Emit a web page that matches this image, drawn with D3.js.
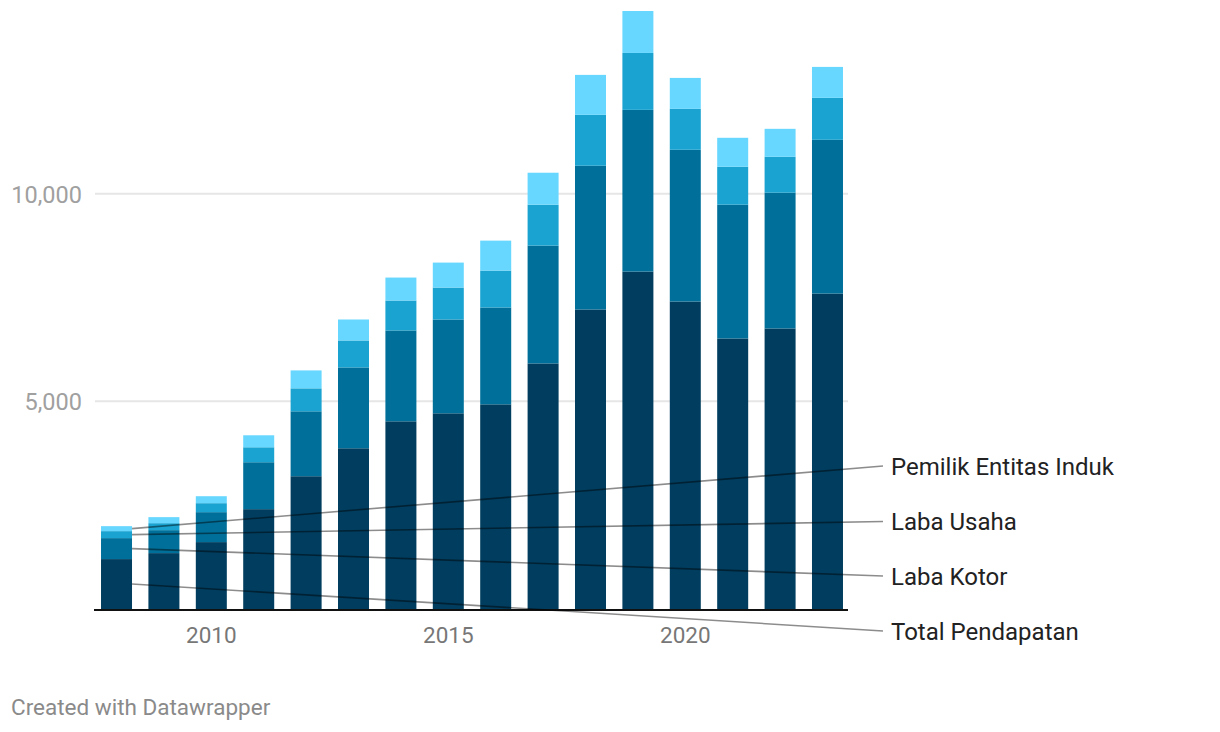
<!DOCTYPE html>
<html>
<head>
<meta charset="utf-8">
<script src="https://cdn.jsdelivr.net/npm/d3@7"></script>
<style>
  html, body { margin: 0; padding: 0; background: #fff; }
  svg { display: block; font-family: Roboto, "Noto Sans", sans-serif; }
</style>
</head>
<body>
<svg id="chart" width="1220" height="732"></svg>
<script>
// ---- data ----
const years = [2008, 2009, 2010, 2011, 2012, 2013, 2014, 2015, 2016, 2017, 2018, 2019, 2020, 2021, 2022, 2023];
const totalPendapatan = [1202, 1346, 1611, 2404, 3197, 3870, 4519, 4712, 4928, 5913, 7212, 8125, 7404, 6514, 6755, 7596];
const labaKotor = [505, 553, 721, 1130, 1563, 1947, 2188, 2259, 2332, 2837, 3461, 3894, 3654, 3222, 3269, 3702];
const labaUsaha = [168, 168, 216, 360, 553, 649, 721, 769, 889, 986, 1226, 1370, 985, 913, 865, 1010];
const pemilikEntitasInduk = [120, 145, 168, 289, 432, 505, 553, 601, 721, 769, 962, 1010, 745, 697, 673, 745];
const seriesNames = ["Total Pendapatan", "Laba Kotor", "Laba Usaha", "Pemilik Entitas Induk"];
const yTicks = [0, 5000, 10000];
const xTicks = [2010, 2015, 2020];

// ---- styles / layout ----
const colors = ["#003d5e", "#00709a", "#1aa3d0", "#68d7ff"];
const svg = d3.select("#chart");

const rows = years.map((yr, i) => ({
  year: yr,
  "Total Pendapatan": totalPendapatan[i],
  "Laba Kotor": labaKotor[i],
  "Laba Usaha": labaUsaha[i],
  "Pemilik Entitas Induk": pemilikEntitasInduk[i]
}));
const stacked = d3.stack().keys(seriesNames)(rows);

const x = d3.scaleBand().domain(years).range([94, 850]).paddingInner(0.346).paddingOuter(0.148);
const y = d3.scaleLinear().domain([0, 10000]).range([609, 193.7]);

// gridlines
svg.append("g").selectAll("line")
  .data(yTicks.filter(d => d > 0))
  .join("line")
  .attr("x1", 95).attr("x2", 848)
  .attr("y1", d => y(d)).attr("y2", d => y(d))
  .attr("stroke", "#e6e6e6").attr("stroke-width", 2);

// y labels
svg.append("g").selectAll("text")
  .data(yTicks.filter(d => d > 0))
  .join("text")
  .attr("x", 82).attr("y", d => y(d) + 8.8)
  .attr("text-anchor", "end")
  .attr("font-size", 23.5)
  .attr("fill", "#a0a0a0")
  .text(d => d3.format(",")(d));

// bars
svg.append("g").selectAll("g")
  .data(stacked)
  .join("g")
  .attr("fill", (d, i) => colors[i])
  .selectAll("rect")
  .data(d => d)
  .join("rect")
  .attr("x", d => x(d.data.year))
  .attr("width", x.bandwidth())
  .attr("y", d => y(d[1]))
  .attr("height", d => y(d[0]) - y(d[1]));

// baseline
svg.append("line")
  .attr("x1", 94).attr("x2", 848)
  .attr("y1", y(0) + 1).attr("y2", y(0) + 1)
  .attr("stroke", "#111").attr("stroke-width", 2);

// x labels
svg.append("g").selectAll("text")
  .data(xTicks)
  .join("text")
  .attr("x", d => x(d) + x.bandwidth() / 2)
  .attr("y", 643)
  .attr("text-anchor", "middle")
  .attr("font-size", 22.5)
  .attr("fill", "#777")
  .text(d => d);

// series labels with connector lines
const labelBaselines = [639.5, 584.5, 530, 474.5];
const labelX = 891;
const first = years[0];
const lab = svg.append("g");
stacked.forEach((s, i) => {
  const seg = s[0];
  const sy = (y(seg[0]) + y(seg[1])) / 2;
  lab.append("line")
    .attr("x1", x(first) + x.bandwidth()).attr("y1", sy)
    .attr("x2", 883).attr("y2", labelBaselines[i] - 8.5)
    .attr("stroke", "#000").attr("stroke-opacity", 0.45).attr("stroke-width", 1.6);
  lab.append("text")
    .attr("x", labelX).attr("y", labelBaselines[i])
    .attr("font-size", 24)
    .attr("fill", "#222")
    .text(seriesNames[i]);
});

// footer
svg.append("text")
  .attr("x", 11).attr("y", 715)
  .attr("font-size", 22.5)
  .attr("fill", "#8a8a8a")
  .text("Created with Datawrapper");
</script>
</body>
</html>
